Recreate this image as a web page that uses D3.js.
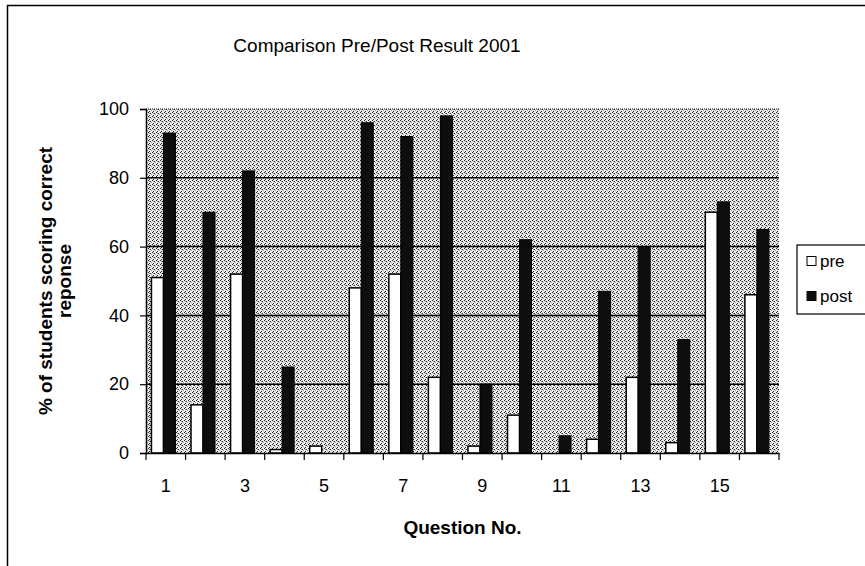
<!DOCTYPE html>
<html>
<head>
<meta charset="utf-8">
<script src="https://cdn.jsdelivr.net/npm/d3@7"></script>
<style>
  html, body { margin: 0; padding: 0; background: #fff; }
  svg { display: block; }
  text { font-family: "Liberation Sans", Arial, sans-serif; fill: #000; }
</style>
</head>
<body>
<svg id="chart" width="865" height="566"></svg>
<script>
// ---- data ----
const categories = ["1","2","3","4","5","6","7","8","9","10","11","12","13","14","15","16"];
const seriesNames = ["pre", "post"];
const preValues  = [51, 14, 52, 1, 2, 48, 52, 22, 2, 11, 0, 4, 22, 3, 70, 46];
const postValues = [93, 70, 82, 25, 0, 96, 92, 98, 20, 62, 5, 47, 60, 33, 73, 65];
const yTicks = [0, 20, 40, 60, 80, 100];
const xTickLabels = ["1","3","5","7","9","11","13","15"];
const titleText = "Comparison Pre/Post Result 2001";
const xTitle = "Question No.";
const yTitleLines = ["% of students scoring correct", "reponse"];

// ---- layout ----
const svg = d3.select("#chart");
const plot = { left: 146, right: 779, top: 109, bottom: 453 };

const x = d3.scaleBand().domain(categories).range([plot.left, plot.right]).padding(0);
const xs = d3.scaleBand().domain(seriesNames).range([0, x.bandwidth()])
  .paddingInner(0).paddingOuter(0.65).align(0.35);
const y = d3.scaleLinear().domain([0, 100]).range([plot.bottom, plot.top]);

const data = categories.map((c, i) => ({ cat: c, pre: preValues[i], post: postValues[i] }));

// stipple pattern for the plot area
const defs = svg.append("defs");
const pat = defs.append("pattern").attr("id", "stipple")
  .attr("width", 4).attr("height", 4).attr("patternUnits", "userSpaceOnUse");
pat.append("rect").attr("width", 4).attr("height", 4).attr("fill", "#ededed");
[[0,0],[2,1],[1,3]].forEach(([px,py]) =>
  pat.append("rect").attr("x", px).attr("y", py).attr("width", 1).attr("height", 1).attr("fill", "#222"));
[[3,2],[1,1]].forEach(([px,py]) =>
  pat.append("rect").attr("x", px).attr("y", py).attr("width", 1).attr("height", 1).attr("fill", "#999"));

// outer chart frame (left and top edges visible)
svg.append("line").attr("x1", 7).attr("x2", 865).attr("y1", 5.5).attr("y2", 5.5)
  .attr("stroke", "#000").attr("stroke-width", 1.5);
svg.append("line").attr("x1", 7.5).attr("x2", 7.5).attr("y1", 5).attr("y2", 566)
  .attr("stroke", "#000").attr("stroke-width", 1.5);

// plot background
svg.append("rect")
  .attr("x", plot.left).attr("y", y(100))
  .attr("width", plot.right - plot.left).attr("height", y(0) - y(100))
  .attr("fill", "url(#stipple)");

// gridlines
svg.append("g").selectAll("line")
  .data(yTicks.filter(t => t > 0 && t < 100))
  .join("line")
  .attr("x1", plot.left).attr("x2", plot.right)
  .attr("y1", d => y(d)).attr("y2", d => y(d))
  .attr("stroke", "#000").attr("stroke-width", 1.5);
svg.append("line")
  .attr("x1", plot.left).attr("x2", plot.right)
  .attr("y1", y(100)).attr("y2", y(100))
  .attr("stroke", "#222").attr("stroke-width", 1.2).attr("stroke-dasharray", "1,1");

// bars
const groups = svg.append("g").selectAll("g")
  .data(data).join("g")
  .attr("transform", d => `translate(${x(d.cat)},0)`);

groups.append("rect")
  .attr("x", xs("pre")).attr("width", xs.bandwidth())
  .attr("y", d => y(d.pre)).attr("height", d => y(0) - y(d.pre))
  .attr("fill", "#fff").attr("stroke", "#000").attr("stroke-width", 1.5)
  .attr("display", d => d.pre > 0 ? null : "none");

groups.append("rect")
  .attr("x", xs("post")).attr("width", xs.bandwidth())
  .attr("y", d => y(d.post)).attr("height", d => y(0) - y(d.post))
  .attr("fill", "#0d0d0d").attr("stroke", "#000").attr("stroke-width", 1)
  .attr("display", d => d.post > 0 ? null : "none");

// y axis
const yAxis = svg.append("g")
  .attr("transform", `translate(${plot.left},0)`)
  .call(d3.axisLeft(y).tickValues(yTicks).tickSize(6).tickPadding(11).tickFormat(d3.format("d")));
yAxis.select(".domain").attr("stroke", "#000").attr("stroke-width", 1.5);
yAxis.selectAll(".tick line").attr("stroke", "#000").attr("stroke-width", 1.2);
yAxis.selectAll("text").attr("font-size", 18).attr("font-family", "Liberation Sans, Arial, sans-serif").attr("fill", "#000");

// x axis: line, boundary ticks, centered labels
const xAxis = svg.append("g")
  .attr("transform", `translate(0,${plot.bottom})`)
  .call(d3.axisBottom(x).tickSize(0).tickPadding(26)
    .tickFormat(d => xTickLabels.includes(d) ? d : ""));
xAxis.select(".domain").attr("stroke", "#000").attr("stroke-width", 1.5);
xAxis.selectAll("text").attr("font-size", 18).attr("font-family", "Liberation Sans, Arial, sans-serif").attr("fill", "#000");

const boundaries = categories.map(c => x(c)).concat([x.range()[1]]);
svg.append("g").selectAll("line")
  .data(boundaries).join("line")
  .attr("x1", d => d).attr("x2", d => d)
  .attr("y1", plot.bottom).attr("y2", plot.bottom + 7)
  .attr("stroke", "#000").attr("stroke-width", 1.2);

// title
svg.append("text")
  .attr("x", 377).attr("y", 52)
  .attr("text-anchor", "middle")
  .attr("font-size", 19)
  .text(titleText);

// x title
svg.append("text")
  .attr("x", (plot.left + plot.right) / 2).attr("y", 534)
  .attr("text-anchor", "middle")
  .attr("font-size", 19).attr("font-weight", "bold")
  .text(xTitle);

// y title (two lines, rotated)
const yc = (plot.top + plot.bottom) / 2;
const yTitleX = [45, 64];
yTitleLines.forEach((line, i) => {
  svg.append("text")
    .attr("transform", `translate(${yTitleX[i]},${yc}) rotate(-90)`)
    .attr("text-anchor", "middle")
    .attr("dy", "0.35em")
    .attr("font-size", 19).attr("font-weight", "bold")
    .text(line);
});

// legend
const legend = svg.append("g");
legend.append("rect")
  .attr("x", 797).attr("y", 245).attr("width", 80).attr("height", 69)
  .attr("fill", "#fff").attr("stroke", "#000").attr("stroke-width", 1.2);
const legItems = legend.selectAll("g.item")
  .data(seriesNames).join("g").attr("class", "item")
  .attr("transform", (d, i) => `translate(807,${261 + i * 35})`);
legItems.append("rect")
  .attr("x", 0).attr("y", -4.5).attr("width", 9).attr("height", 9)
  .attr("fill", d => d === "pre" ? "#fff" : "#0d0d0d")
  .attr("stroke", "#000").attr("stroke-width", 1);
legItems.append("text")
  .attr("x", 13).attr("dy", "0.35em")
  .attr("font-size", 17)
  .text(d => d);
</script>
</body>
</html>
